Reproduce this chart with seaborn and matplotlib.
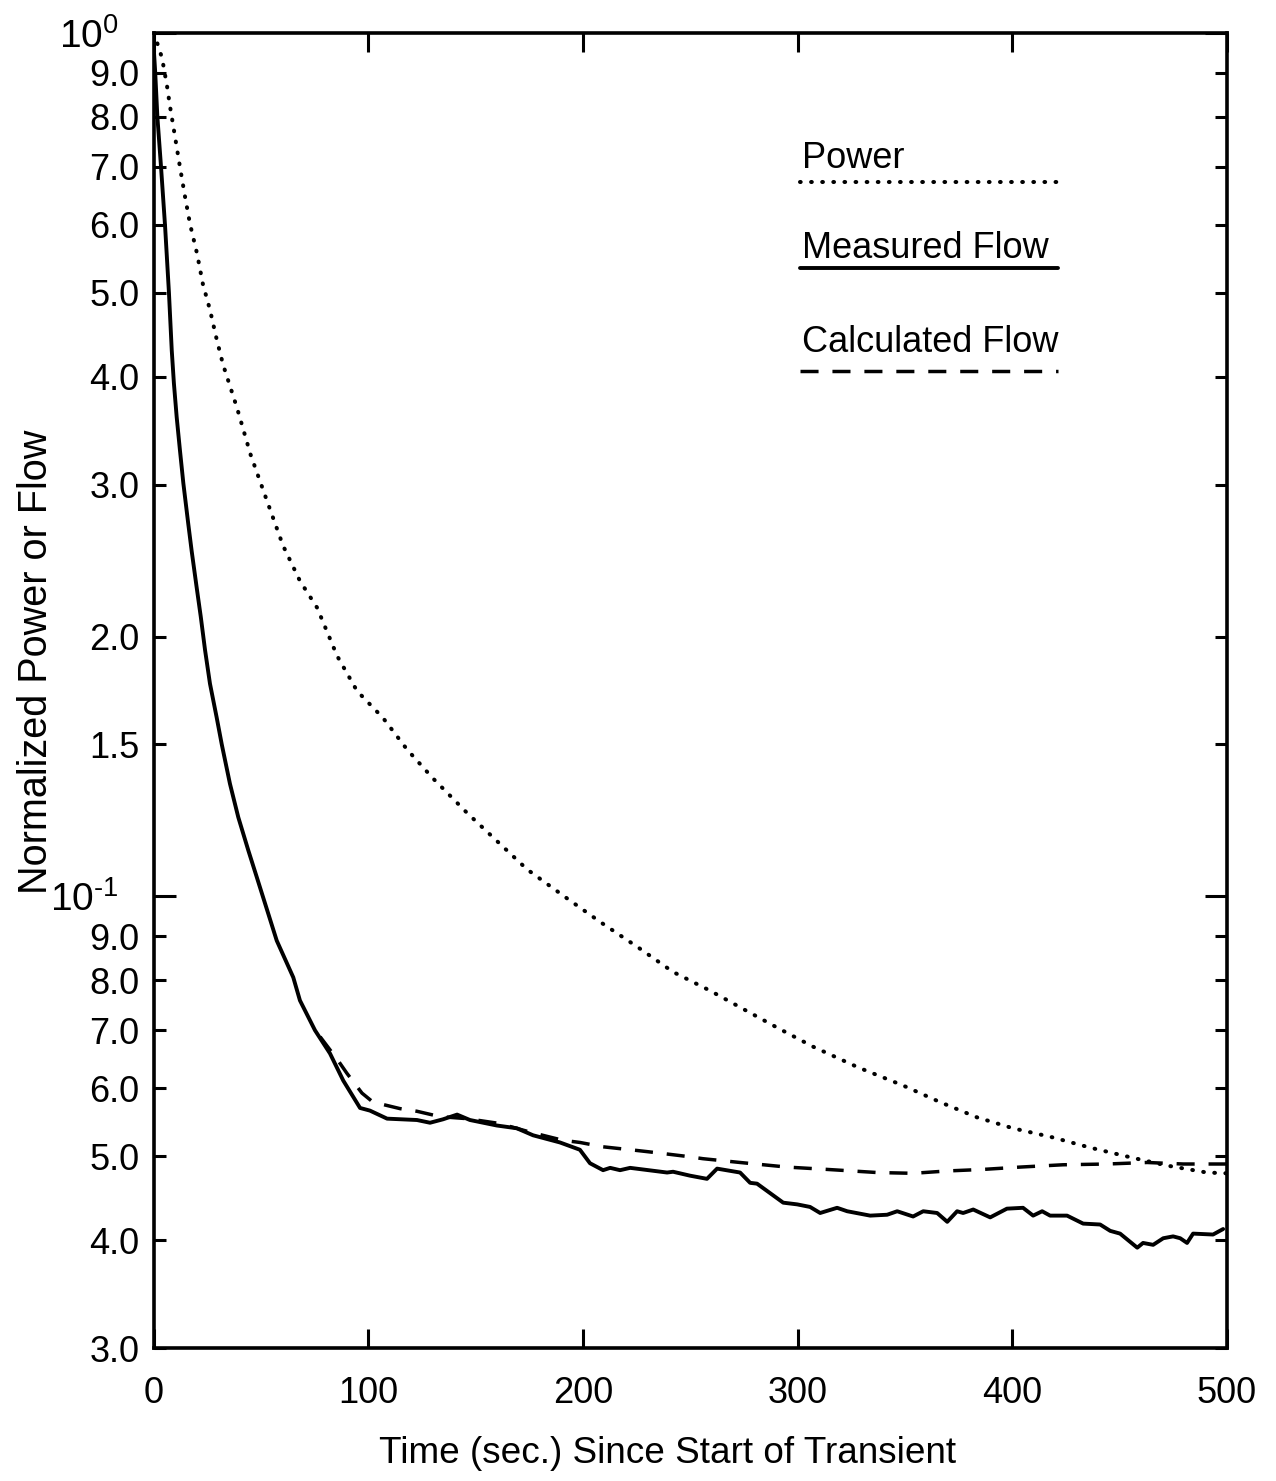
import matplotlib
matplotlib.use("Agg")
import matplotlib.pyplot as plt
import matplotlib.ticker as mticker
import seaborn as sns
import numpy as np
import pandas as pd

# ---------------- data ----------------
power_t = [0, 1.6, 4.0, 6.3, 7.7, 10.0, 12.3, 14.7, 17.0, 20.3, 23.0, 26.3, 29.5, 32.4,
           38.9, 45.2, 52.9, 60.3, 68.2, 76.2, 85.5, 94.8, 106.9, 118.1, 130.2, 146.0,
           156.7, 174.0, 192.6, 207.9, 226.6, 241.9, 259.2, 274.6, 290.9, 307.2, 328.2,
           349.2, 366.3, 383.5, 400.3, 418.9, 436.1, 454.8, 472.0, 490.6, 500]
power_v = [1.0, 0.976, 0.935, 0.868, 0.822, 0.759, 0.700, 0.646, 0.601, 0.555, 0.512,
           0.478, 0.441, 0.413, 0.368, 0.325, 0.287, 0.255, 0.232, 0.216, 0.190, 0.173,
           0.161, 0.148, 0.137, 0.125, 0.118, 0.1075, 0.0995, 0.0935, 0.087, 0.0818,
           0.0778, 0.0741, 0.0704, 0.067, 0.0634, 0.0604, 0.0578, 0.0555, 0.0539,
           0.0526, 0.0512, 0.0499, 0.0488, 0.0479, 0.0478]

meas_t = [0, 0.8, 1.8, 3.5, 5.4, 7.2, 8.5, 9.5, 10.8, 12.3, 13.9, 16.2, 17.8, 20.1,
          22.0, 24.0, 26.3, 29.4, 31.8, 35.6, 39.5, 44.2, 48.1, 57.4, 65.1, 68.2, 75.2,
          82.2, 88.4, 96.2, 100.8, 108.8, 122.7, 128.8, 134.8, 141.4, 147.4, 159.9,
          169.2, 176.8, 189.3, 198.6, 203.3, 209.4, 212.7, 217.3, 222.0, 239.2, 242.0,
          249.9, 257.8, 262.5, 273.2, 277.9, 281.1, 293.3, 299.8, 305.8, 310.5, 318.4,
          323.1, 333.8, 341.7, 346.4, 353.8, 358.5, 365.0, 369.7, 374.3, 377.1, 381.8,
          389.7, 397.5, 405.0, 409.7, 413.9, 417.6, 425.5, 433.0, 440.9, 445.6, 450.2,
          458.2, 460.9, 465.6, 470.3, 474.9, 478.2, 481.4, 484.2, 493.5, 498.2]
meas_v = [0.97, 0.90, 0.80, 0.70, 0.597, 0.50, 0.429, 0.393, 0.359, 0.329, 0.301,
          0.270, 0.251, 0.228, 0.211, 0.193, 0.1764, 0.1613, 0.150, 0.1351, 0.1235,
          0.113, 0.1053, 0.0889, 0.0806, 0.0758, 0.070, 0.0658, 0.0612, 0.0569,
          0.0565, 0.0553, 0.0551, 0.0547, 0.0552, 0.0559, 0.0551, 0.0543, 0.0539,
          0.0529, 0.0519, 0.0509, 0.0491, 0.0482, 0.0485, 0.0482, 0.0485, 0.0479,
          0.0480, 0.0475, 0.0471, 0.0484, 0.0479, 0.0466, 0.0465, 0.0442, 0.0440,
          0.0437, 0.0430, 0.0436, 0.0432, 0.0427, 0.0428, 0.0432, 0.0426, 0.0432,
          0.0430, 0.0420, 0.0432, 0.0430, 0.0434, 0.0425, 0.0435, 0.0436, 0.0427,
          0.0432, 0.0427, 0.0427, 0.0418, 0.0417, 0.0410, 0.0407, 0.0392, 0.0397,
          0.0395, 0.0402, 0.0404, 0.0402, 0.0397, 0.0407, 0.0406, 0.0412]

calc_t = [77.6, 85.9, 90.1, 97.1, 102.2, 114.8, 122.7, 133.4, 146, 161, 176, 190.7,
          198.6, 209.4, 225.2, 231.3, 248.5, 255.9, 273.2, 295.1, 313.7, 337.0, 353.8,
          369.7, 386.4, 403.6, 423.6, 444.2, 462.8, 479.6, 500]
calc_v = [0.0688, 0.0646, 0.0624, 0.0592, 0.0578, 0.0568, 0.0564, 0.0556, 0.0553,
          0.0546, 0.0533, 0.0522, 0.0519, 0.0513, 0.0508, 0.0506, 0.0500, 0.0497,
          0.0492, 0.0486, 0.0483, 0.0479, 0.0478, 0.0481, 0.0483, 0.0486, 0.0489,
          0.0490, 0.0492, 0.0490, 0.0490]

x_ticks = [0, 100, 200, 300, 400, 500]
y_major = [0.1, 1.0]
y_major_labels = [r"$\mathregular{10^{\text{-}1}}$", r"$\mathregular{10^{0}}$"]
y_minor = [0.03, 0.04, 0.05, 0.06, 0.07, 0.08, 0.09,
           0.15, 0.2, 0.3, 0.4, 0.5, 0.6, 0.7, 0.8, 0.9]
y_minor_labels = ["3.0", "4.0", "5.0", "6.0", "7.0", "8.0", "9.0",
                  "1.5", "2.0", "3.0", "4.0", "5.0", "6.0", "7.0", "8.0", "9.0"]
legend_names = ["Power", "Measured Flow", "Calculated Flow"]

# ---------------- style ----------------
sns.set_style("ticks")
plt.rcParams["font.family"] = ["Liberation Sans", "DejaVu Sans"]
plt.rcParams["mathtext.fontset"] = "custom"
plt.rcParams["mathtext.rm"] = "Liberation Sans"
plt.rcParams["lines.scale_dashes"] = False
for key in ["text.color", "axes.labelcolor", "xtick.color", "ytick.color",
            "xtick.labelcolor", "ytick.labelcolor"]:
    plt.rcParams[key] = "black"

W, H = 1276, 1481
AX_L, AX_R, AX_T, AX_B = 153.5, 1227, 33, 1348
fig = plt.figure(figsize=(W / 100, H / 100), dpi=100)
ax = fig.add_axes([AX_L / W, 1 - AX_B / H, (AX_R - AX_L) / W, (AX_B - AX_T) / H])

def ax_x(px):
    return (px - AX_L) / (AX_R - AX_L)

def ax_y(py):
    return 1 - (py - AX_T) / (AX_B - AX_T)

dot_style = (0, (0.5, 7.5))
dash_style = (0, (13, 10))

df_p = pd.DataFrame({"t": power_t, "v": power_v})
df_m = pd.DataFrame({"t": meas_t, "v": meas_v})
df_c = pd.DataFrame({"t": calc_t, "v": calc_v})

sns.lineplot(data=df_p, x="t", y="v", ax=ax, color="black", lw=2.9,
             linestyle=dot_style, dash_capstyle="round", estimator=None, sort=False)
sns.lineplot(data=df_m, x="t", y="v", ax=ax, color="black", lw=2.8,
             estimator=None, sort=False)
sns.lineplot(data=df_c, x="t", y="v", ax=ax, color="black", lw=2.5,
             linestyle=dash_style, estimator=None, sort=False)

ax.set_yscale("log")
ax.set_xlim(0, 500)
ax.set_ylim(0.03, 1.0)

# ticks
ax.xaxis.set_major_locator(mticker.FixedLocator(x_ticks))
ax.xaxis.set_major_formatter(mticker.FixedFormatter([str(v) for v in x_ticks]))
ax.xaxis.set_minor_locator(mticker.NullLocator())
ax.yaxis.set_major_locator(mticker.FixedLocator(y_major))
ax.yaxis.set_major_formatter(mticker.FixedFormatter(y_major_labels))
ax.yaxis.set_minor_locator(mticker.FixedLocator(y_minor))
ax.yaxis.set_minor_formatter(mticker.FixedFormatter(y_minor_labels))

ax.tick_params(axis="x", which="major", direction="in", length=14, width=2.2,
               top=True, bottom=True, labelsize=26, pad=20)
ax.tick_params(axis="y", which="major", direction="in", length=16, width=2.2,
               left=True, right=True, labelsize=28, pad=25)
ax.tick_params(axis="y", which="minor", direction="in", length=8.5, width=2.2,
               left=True, right=True, labelsize=26, pad=10)

for s in ax.spines.values():
    s.set_linewidth(2.6)
    s.set_color("black")

ax.set_xlabel("Time (sec.) Since Start of Transient", fontsize=26.6)
ax.set_ylabel("Normalized Power or Flow", fontsize=28.5)
ax.xaxis.set_label_coords(ax_x(668), ax_y(1436))
ax.yaxis.set_label_coords(ax_x(55), ax_y(662))

# custom legend: text above a line sample
leg_x0, leg_x1 = ax_x(800), ax_x(1058)
text_y = [ax_y(158), ax_y(249), ax_y(342)]
line_y = [ax_y(182), ax_y(268), ax_y(371)]
styles = [dict(linestyle=dot_style, lw=2.9, dash_capstyle="round"),
          dict(linestyle="-", lw=2.8),
          dict(linestyle=dash_style, lw=2.5)]
for name, ty, ly, st in zip(legend_names, text_y, line_y, styles):
    ax.text(leg_x0 + 0.002, ty, name, transform=ax.transAxes, fontsize=26,
            ha="left", va="center", color="black")
    ax.plot([leg_x0, leg_x1], [ly, ly], transform=ax.transAxes, color="black", **st)

fig.savefig("out.png", dpi=100, facecolor="white")
